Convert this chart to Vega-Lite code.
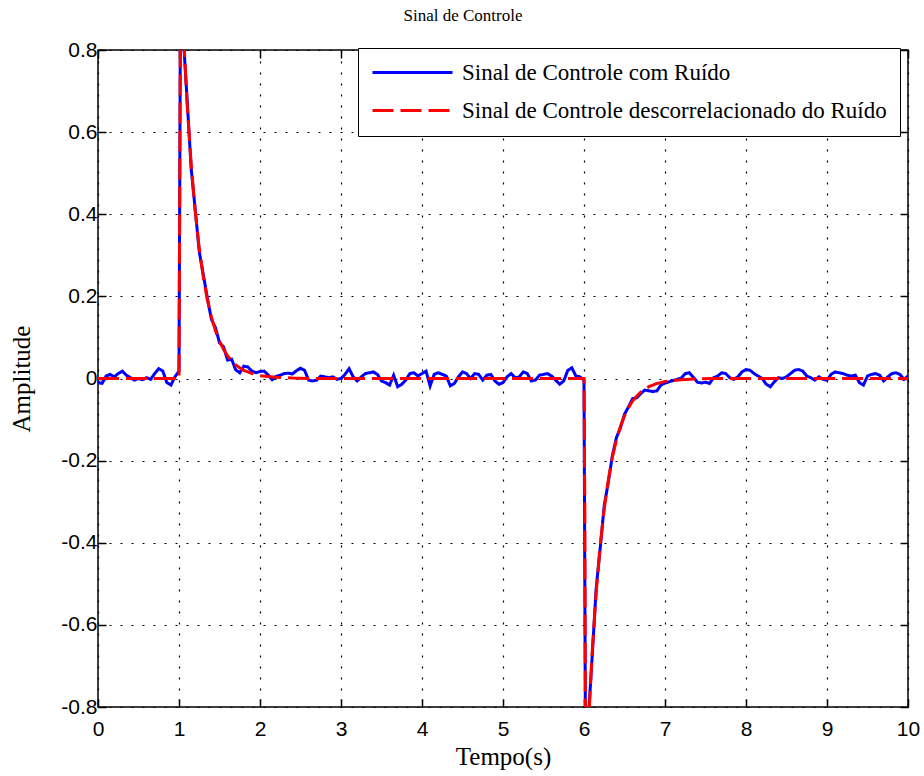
{
  "$schema": "https://vega.github.io/schema/vega-lite/v6.json",
  "width": 810,
  "height": 657,
  "autosize": {"type": "none"},
  "padding": {"left": 98, "top": 50, "right": 16, "bottom": 69},
  "background": "white",
  "title": {"text": "Sinal de Controle", "font": "Liberation Serif", "fontSize": 17, "fontWeight": "normal", "color": "#000", "offset": 14, "dx": -40},
  "data": {"values": [
    {"t":0,"v":-0.010,"s":"R"},{"t":0.05,"v":-0.012,"s":"R"},{"t":0.1,"v":0.006,"s":"R"},{"t":0.15,"v":0.010,"s":"R"},{"t":0.2,"v":0.004,"s":"R"},
    {"t":0.25,"v":0.012,"s":"R"},{"t":0.3,"v":0.018,"s":"R"},{"t":0.35,"v":0.008,"s":"R"},{"t":0.4,"v":0.002,"s":"R"},{"t":0.45,"v":-0.004,"s":"R"},
    {"t":0.5,"v":0,"s":"R"},{"t":0.55,"v":-0.003,"s":"R"},{"t":0.6,"v":0.002,"s":"R"},{"t":0.65,"v":-0.002,"s":"R"},{"t":0.7,"v":0.012,"s":"R"},
    {"t":0.75,"v":0.024,"s":"R"},{"t":0.8,"v":0.018,"s":"R"},{"t":0.85,"v":-0.010,"s":"R"},{"t":0.9,"v":-0.016,"s":"R"},{"t":0.95,"v":0.004,"s":"R"},
    {"t":1.0,"v":0.018,"s":"R"},{"t":1.02,"v":1.0,"s":"R"},{"t":1.05,"v":0.841,"s":"R"},{"t":1.1,"v":0.680,"s":"R"},{"t":1.15,"v":0.512,"s":"R"},
    {"t":1.2,"v":0.412,"s":"R"},{"t":1.25,"v":0.309,"s":"R"},{"t":1.3,"v":0.253,"s":"R"},{"t":1.35,"v":0.196,"s":"R"},{"t":1.4,"v":0.144,"s":"R"},
    {"t":1.45,"v":0.124,"s":"R"},{"t":1.5,"v":0.087,"s":"R"},{"t":1.55,"v":0.077,"s":"R"},{"t":1.6,"v":0.045,"s":"R"},{"t":1.65,"v":0.047,"s":"R"},
    {"t":1.7,"v":0.021,"s":"R"},{"t":1.75,"v":0.014,"s":"R"},{"t":1.8,"v":0.030,"s":"R"},{"t":1.85,"v":0.028,"s":"R"},{"t":1.9,"v":0.018,"s":"R"},
    {"t":1.95,"v":0.014,"s":"R"},{"t":2.0,"v":0.017,"s":"R"},{"t":2.05,"v":0.018,"s":"R"},{"t":2.1,"v":0.009,"s":"R"},{"t":2.15,"v":-0.003,"s":"R"},
    {"t":2.2,"v":0.005,"s":"R"},{"t":2.25,"v":0.008,"s":"R"},{"t":2.3,"v":0.012,"s":"R"},{"t":2.35,"v":0.013,"s":"R"},{"t":2.4,"v":0.011,"s":"R"},
    {"t":2.45,"v":0.019,"s":"R"},{"t":2.5,"v":0.025,"s":"R"},{"t":2.55,"v":0.020,"s":"R"},{"t":2.6,"v":-0.004,"s":"R"},{"t":2.65,"v":-0.006,"s":"R"},
    {"t":2.7,"v":-0.004,"s":"R"},{"t":2.75,"v":0.006,"s":"R"},{"t":2.8,"v":0.004,"s":"R"},{"t":2.85,"v":0.002,"s":"R"},{"t":2.9,"v":0.004,"s":"R"},
    {"t":2.95,"v":-0.002,"s":"R"},{"t":3.0,"v":0,"s":"R"},{"t":3.05,"v":0.010,"s":"R"},{"t":3.1,"v":0.024,"s":"R"},{"t":3.15,"v":0.004,"s":"R"},
    {"t":3.2,"v":-0.006,"s":"R"},{"t":3.25,"v":0.004,"s":"R"},{"t":3.3,"v":0.012,"s":"R"},{"t":3.35,"v":0.014,"s":"R"},{"t":3.4,"v":0.016,"s":"R"},
    {"t":3.45,"v":0.010,"s":"R"},{"t":3.5,"v":-0.006,"s":"R"},{"t":3.55,"v":-0.010,"s":"R"},{"t":3.6,"v":-0.016,"s":"R"},{"t":3.65,"v":0.008,"s":"R"},
    {"t":3.7,"v":-0.020,"s":"R"},{"t":3.75,"v":-0.014,"s":"R"},{"t":3.8,"v":-0.004,"s":"R"},{"t":3.85,"v":0.012,"s":"R"},{"t":3.9,"v":0.014,"s":"R"},
    {"t":3.95,"v":0.006,"s":"R"},{"t":4.0,"v":0.012,"s":"R"},{"t":4.05,"v":0.018,"s":"R"},{"t":4.1,"v":-0.018,"s":"R"},{"t":4.15,"v":0.010,"s":"R"},
    {"t":4.2,"v":0.014,"s":"R"},{"t":4.25,"v":0.010,"s":"R"},{"t":4.3,"v":0.006,"s":"R"},{"t":4.35,"v":-0.018,"s":"R"},{"t":4.4,"v":-0.012,"s":"R"},
    {"t":4.45,"v":0.004,"s":"R"},{"t":4.5,"v":0.016,"s":"R"},{"t":4.55,"v":0.012,"s":"R"},{"t":4.6,"v":0,"s":"R"},{"t":4.65,"v":0.012,"s":"R"},
    {"t":4.7,"v":0.010,"s":"R"},{"t":4.75,"v":-0.004,"s":"R"},{"t":4.8,"v":0.008,"s":"R"},{"t":4.85,"v":0.010,"s":"R"},{"t":4.9,"v":-0.006,"s":"R"},
    {"t":4.95,"v":-0.014,"s":"R"},{"t":5.0,"v":-0.010,"s":"R"},{"t":5.05,"v":0.004,"s":"R"},{"t":5.1,"v":0.012,"s":"R"},{"t":5.15,"v":0.002,"s":"R"},
    {"t":5.2,"v":0.004,"s":"R"},{"t":5.25,"v":0.016,"s":"R"},{"t":5.3,"v":0.012,"s":"R"},{"t":5.35,"v":-0.006,"s":"R"},{"t":5.4,"v":-0.004,"s":"R"},
    {"t":5.45,"v":0.008,"s":"R"},{"t":5.5,"v":0.010,"s":"R"},{"t":5.55,"v":0.012,"s":"R"},{"t":5.6,"v":0.006,"s":"R"},{"t":5.65,"v":-0.004,"s":"R"},
    {"t":5.7,"v":-0.014,"s":"R"},{"t":5.75,"v":-0.006,"s":"R"},{"t":5.8,"v":0.020,"s":"R"},{"t":5.85,"v":0.026,"s":"R"},{"t":5.9,"v":0.006,"s":"R"},
    {"t":5.95,"v":0.004,"s":"R"},{"t":6.0,"v":-0.004,"s":"R"},{"t":6.02,"v":-0.98,"s":"R"},{"t":6.05,"v":-0.841,"s":"R"},{"t":6.1,"v":-0.680,"s":"R"},
    {"t":6.15,"v":-0.512,"s":"R"},{"t":6.2,"v":-0.413,"s":"R"},{"t":6.25,"v":-0.309,"s":"R"},{"t":6.3,"v":-0.253,"s":"R"},{"t":6.35,"v":-0.188,"s":"R"},
    {"t":6.4,"v":-0.144,"s":"R"},{"t":6.45,"v":-0.120,"s":"R"},{"t":6.5,"v":-0.087,"s":"R"},{"t":6.55,"v":-0.069,"s":"R"},{"t":6.6,"v":-0.049,"s":"R"},
    {"t":6.65,"v":-0.047,"s":"R"},{"t":6.7,"v":-0.037,"s":"R"},{"t":6.75,"v":-0.028,"s":"R"},{"t":6.8,"v":-0.030,"s":"R"},{"t":6.85,"v":-0.032,"s":"R"},
    {"t":6.9,"v":-0.030,"s":"R"},{"t":6.95,"v":-0.016,"s":"R"},{"t":7.0,"v":-0.011,"s":"R"},{"t":7.05,"v":-0.008,"s":"R"},{"t":7.1,"v":-0.005,"s":"R"},
    {"t":7.15,"v":-0.002,"s":"R"},{"t":7.2,"v":0.001,"s":"R"},{"t":7.25,"v":0.012,"s":"R"},{"t":7.3,"v":0.014,"s":"R"},{"t":7.35,"v":0.003,"s":"R"},
    {"t":7.4,"v":-0.009,"s":"R"},{"t":7.45,"v":-0.011,"s":"R"},{"t":7.5,"v":-0.009,"s":"R"},{"t":7.55,"v":-0.012,"s":"R"},{"t":7.6,"v":0.002,"s":"R"},
    {"t":7.65,"v":0.006,"s":"R"},{"t":7.7,"v":0.014,"s":"R"},{"t":7.75,"v":0.012,"s":"R"},{"t":7.8,"v":0.002,"s":"R"},{"t":7.85,"v":-0.002,"s":"R"},
    {"t":7.9,"v":0.004,"s":"R"},{"t":7.95,"v":0.016,"s":"R"},{"t":8.0,"v":0.022,"s":"R"},{"t":8.05,"v":0.020,"s":"R"},{"t":8.1,"v":0.012,"s":"R"},
    {"t":8.15,"v":0.006,"s":"R"},{"t":8.2,"v":0,"s":"R"},{"t":8.25,"v":-0.014,"s":"R"},{"t":8.3,"v":-0.020,"s":"R"},{"t":8.35,"v":-0.008,"s":"R"},
    {"t":8.4,"v":0.002,"s":"R"},{"t":8.45,"v":0,"s":"R"},{"t":8.5,"v":0.004,"s":"R"},{"t":8.55,"v":0.012,"s":"R"},{"t":8.6,"v":0.020,"s":"R"},
    {"t":8.65,"v":0.022,"s":"R"},{"t":8.7,"v":0.018,"s":"R"},{"t":8.75,"v":0.006,"s":"R"},{"t":8.8,"v":0.002,"s":"R"},{"t":8.85,"v":-0.004,"s":"R"},
    {"t":8.9,"v":0.004,"s":"R"},{"t":8.95,"v":-0.002,"s":"R"},{"t":9.0,"v":-0.004,"s":"R"},{"t":9.05,"v":0.010,"s":"R"},{"t":9.1,"v":0.016,"s":"R"},
    {"t":9.15,"v":0.014,"s":"R"},{"t":9.2,"v":0.012,"s":"R"},{"t":9.25,"v":0.008,"s":"R"},{"t":9.3,"v":0.006,"s":"R"},{"t":9.35,"v":0.008,"s":"R"},
    {"t":9.4,"v":-0.010,"s":"R"},{"t":9.45,"v":-0.016,"s":"R"},{"t":9.5,"v":0.006,"s":"R"},{"t":9.55,"v":0.010,"s":"R"},{"t":9.6,"v":0.012,"s":"R"},
    {"t":9.65,"v":0.008,"s":"R"},{"t":9.7,"v":-0.006,"s":"R"},{"t":9.75,"v":0.004,"s":"R"},{"t":9.8,"v":0.012,"s":"R"},{"t":9.85,"v":0.014,"s":"R"},
    {"t":9.9,"v":0.010,"s":"R"},{"t":9.95,"v":-0.002,"s":"R"},{"t":10.0,"v":0.006,"s":"R"},
    {"t":0,"v":0,"s":"D"},{"t":1.0,"v":0,"s":"D"},{"t":1.02,"v":1.0,"s":"D"},{"t":1.05,"v":0.861,"s":"D"},{"t":1.1,"v":0.670,"s":"D"},
    {"t":1.15,"v":0.522,"s":"D"},{"t":1.2,"v":0.407,"s":"D"},{"t":1.25,"v":0.317,"s":"D"},{"t":1.3,"v":0.247,"s":"D"},{"t":1.35,"v":0.192,"s":"D"},
    {"t":1.4,"v":0.150,"s":"D"},{"t":1.45,"v":0.116,"s":"D"},{"t":1.5,"v":0.091,"s":"D"},{"t":1.55,"v":0.071,"s":"D"},{"t":1.6,"v":0.055,"s":"D"},
    {"t":1.65,"v":0.043,"s":"D"},{"t":1.7,"v":0.033,"s":"D"},{"t":1.75,"v":0.026,"s":"D"},{"t":1.8,"v":0.020,"s":"D"},{"t":1.85,"v":0.016,"s":"D"},
    {"t":1.9,"v":0.012,"s":"D"},{"t":1.95,"v":0.010,"s":"D"},{"t":2.0,"v":0.007,"s":"D"},{"t":2.1,"v":0.005,"s":"D"},{"t":2.2,"v":0.003,"s":"D"},
    {"t":2.4,"v":0.001,"s":"D"},{"t":2.6,"v":0,"s":"D"},{"t":6.0,"v":0,"s":"D"},{"t":6.01,"v":-0.31,"s":"D"},{"t":6.02,"v":-1.0,"s":"D"},
    {"t":6.05,"v":-0.861,"s":"D"},{"t":6.1,"v":-0.670,"s":"D"},{"t":6.15,"v":-0.522,"s":"D"},{"t":6.2,"v":-0.407,"s":"D"},{"t":6.25,"v":-0.317,"s":"D"},
    {"t":6.3,"v":-0.247,"s":"D"},{"t":6.35,"v":-0.192,"s":"D"},{"t":6.4,"v":-0.150,"s":"D"},{"t":6.45,"v":-0.116,"s":"D"},{"t":6.5,"v":-0.091,"s":"D"},
    {"t":6.55,"v":-0.071,"s":"D"},{"t":6.6,"v":-0.055,"s":"D"},{"t":6.65,"v":-0.043,"s":"D"},{"t":6.7,"v":-0.033,"s":"D"},{"t":6.75,"v":-0.026,"s":"D"},
    {"t":6.8,"v":-0.020,"s":"D"},{"t":6.85,"v":-0.016,"s":"D"},{"t":6.9,"v":-0.012,"s":"D"},{"t":6.95,"v":-0.010,"s":"D"},{"t":7.0,"v":-0.007,"s":"D"},
    {"t":7.1,"v":-0.005,"s":"D"},{"t":7.2,"v":-0.003,"s":"D"},{"t":7.4,"v":-0.001,"s":"D"},{"t":7.6,"v":0,"s":"D"},{"t":10.0,"v":0,"s":"D"}
  ]},
  "layer": [
    {
      "mark": {"type": "line", "strokeWidth": 3, "clip": true},
      "encoding": {
        "x": {"field": "t", "type": "quantitative", "scale": {"domain": [0, 10], "nice": false},
              "axis": {"orient": "bottom", "title": "Tempo(s)", "values": [0,1,2,3,4,5,6,7,8,9,10], "labelExpr": "'' + datum.value", "grid": true, "labelFlush": false, "labelPadding": 19, "titlePadding": 5}},
        "y": {"field": "v", "type": "quantitative", "scale": {"domain": [-0.8, 0.8], "nice": false},
              "axis": {"orient": "left", "title": "Amplitude", "values": [-0.8,-0.6,-0.4,-0.2,0,0.2,0.4,0.6,0.8], "labelExpr": "'' + datum.value", "grid": true, "labelFlush": false, "labelPadding": 9, "titlePadding": 26}},
        "color": {"field": "s", "type": "nominal", "scale": {"domain": ["R", "D"], "range": ["#0000ff", "#ff0000"]},
                  "legend": {"title": null, "labelExpr": "datum.label == 'R' ? 'Sinal de Controle com Ruído' : 'Sinal de Controle descorrelacionado do Ruído'"}},
        "strokeDash": {"field": "s", "type": "nominal", "scale": {"domain": ["R", "D"], "range": [[1, 0], [21, 7]]},
                  "legend": {"title": null, "labelExpr": "datum.label == 'R' ? 'Sinal de Controle com Ruído' : 'Sinal de Controle descorrelacionado do Ruído'"}}
      }
    },
    {
      "mark": {"type": "point", "opacity": 0, "clip": true},
      "encoding": {
        "x": {"field": "t", "type": "quantitative", "axis": {"orient": "top", "title": null, "labels": false, "grid": false, "values": [0,1,2,3,4,5,6,7,8,9,10]}},
        "y": {"field": "v", "type": "quantitative", "axis": {"orient": "right", "title": null, "labels": false, "grid": false, "values": [-0.8,-0.6,-0.4,-0.2,0,0.2,0.4,0.6,0.8]}}
      }
    }
  ],
  "resolve": {"axis": {"x": "independent", "y": "independent"}},
  "config": {
    "view": {"stroke": "#000", "strokeWidth": 1.5},
    "axis": {
      "domain": false, "ticks": true, "tickColor": "#000", "tickSize": -8, "tickWidth": 1.5,
      "labelFont": "Liberation Sans", "labelFontSize": 21, "labelColor": "#000",
      "titleFont": "Liberation Serif", "titleFontSize": 25, "titleFontWeight": "normal", "titleColor": "#000",
      "gridColor": "#000", "gridDash": [2, 9], "gridOpacity": 1, "gridWidth": 1.2
    },
    "legend": {
      "orient": "none", "legendX": 260, "legendY": -2,
      "strokeColor": "#000", "fillColor": "#fff", "padding": 13, "cornerRadius": 0,
      "symbolType": "M-4,0H4", "symbolSize": 400, "symbolOffset": 30, "symbolStrokeWidth": 3,
      "labelFont": "Liberation Serif", "labelFontSize": 23, "labelColor": "#000", "labelLimit": 700,
      "labelOffset": 38, "rowPadding": 14
    }
  }
}
